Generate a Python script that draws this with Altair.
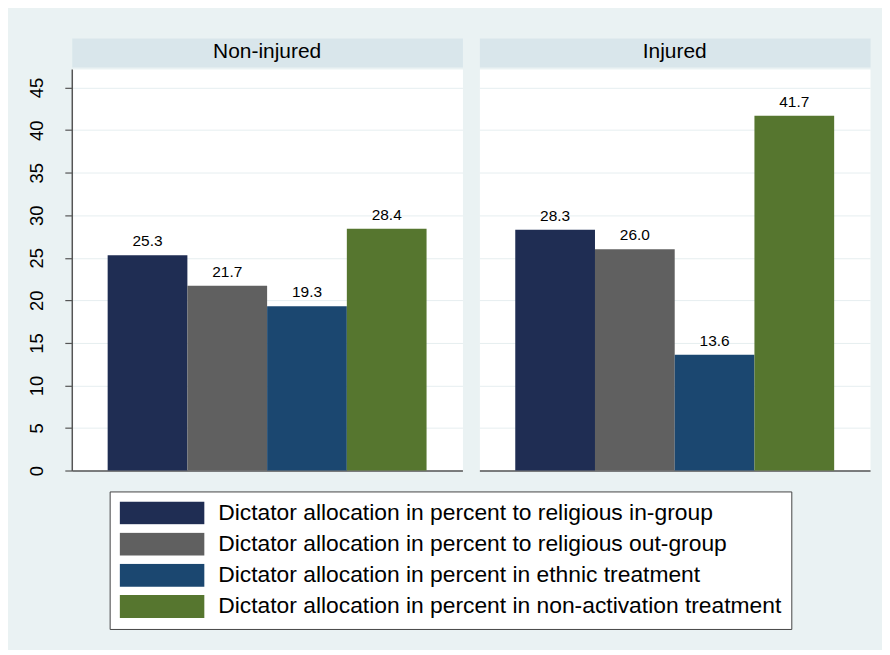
import altair as alt
import pandas as pd

panels = ["Non-injured", "Injured"]
series = [
    "Dictator allocation in percent to religious in-group",
    "Dictator allocation in percent to religious out-group",
    "Dictator allocation in percent in ethnic treatment",
    "Dictator allocation in percent in non-activation treatment",
]
non_injured = [25.3, 21.7, 19.3, 28.4]
injured = [28.3, 26.0, 13.6, 41.7]
colors = ["#1F2D53", "#606060", "#1B4770", "#56762F"]
y_ticks = [0, 5, 10, 15, 20, 25, 30, 35, 40, 45]

FONT = "Liberation Sans"
AX = "#555555"
GRID = "#E6EEF0"

rows = []
for p, vals in zip(panels, [non_injured, injured]):
    for s, v in zip(series, vals):
        rows.append({"panel": p, "series": s, "value": v})
df = pd.DataFrame(rows)
head_df = pd.DataFrame({"panel": panels})

legend = alt.Legend(
    title=None, orient="none", legendX=38, legendY=455,
    direction="vertical",
    symbolType="M-1,-0.27H1V0.27H-1Z", symbolSize=7225,
    symbolStrokeWidth=0, symbolOpacity=1,
    clipHeight=23, rowPadding=7.3,
    labelFont=FONT, labelFontSize=22.9, labelColor="black",
    labelOffset=14, labelLimit=800,
    fillColor="white", strokeColor="#444444", padding=10,
)

color = alt.Color("series:N", scale=alt.Scale(domain=series, range=colors), legend=legend)
xenc = alt.X("series:N", sort=series,
             scale=alt.Scale(paddingInner=0, paddingOuter=0.45),
             axis=alt.Axis(title=None, labels=False, ticks=False, domain=True,
                           domainColor=AX, domainWidth=1.5))


def bars(panel, left):
    if left:
        yaxis = alt.Axis(values=y_ticks, title=None, labelAngle=270, labelAlign="center",
                         labelBaseline="bottom", labelFontSize=18.5, labelFont=FONT,
                         labelColor="black", labelPadding=18, labelFlush=False,
                         labelOverlap=False, tickSize=7, tickColor=AX, tickWidth=1.2,
                         domainColor=AX, domainWidth=1.5, grid=True, gridColor=GRID,
                         gridWidth=1, minExtent=44, maxExtent=44)
    else:
        yaxis = alt.Axis(values=y_ticks, title=None, labels=False, ticks=False,
                         domain=False, grid=True, gridColor=GRID, gridWidth=1)
    y = alt.Y("value:Q", scale=alt.Scale(domain=[0, 47.2], nice=False), axis=yaxis)
    base = alt.Chart(df).transform_filter(alt.datum.panel == panel)
    b = base.mark_bar().encode(x=xenc, y=y, color=color)
    t = base.mark_text(baseline="alphabetic", dy=-9, fontSize=15.5, font=FONT,
                       color="black").encode(
        x=alt.X("series:N", sort=series), y="value:Q",
        text=alt.Text("value:Q", format=".1f"))
    return alt.layer(b, t).properties(
        width=392, height=403,
        view=alt.ViewBackground(fill="white", stroke="transparent"))


def header(panel, left):
    base = alt.Chart(head_df).transform_filter(alt.datum.panel == panel)
    enc = {"text": "panel:N"}
    if left:
        enc["y"] = alt.Y("panel:N", axis=alt.Axis(title=None, labels=False, ticks=False,
                                                 domain=False, grid=False,
                                                 minExtent=44, maxExtent=44))
    return base.mark_text(fontSize=21, font=FONT, color="black").encode(**enc).properties(
        width=392, height=29,
        view=alt.ViewBackground(fill="#D9E6EB", stroke="transparent"))


col1 = alt.vconcat(header(panels[0], True), bars(panels[0], True), spacing=0)
col2 = alt.vconcat(header(panels[1], False), bars(panels[1], False), spacing=0)

chart = alt.hconcat(col1, col2, spacing=15).properties(
    padding={"left": 19, "top": 28, "right": 11, "bottom": 19},
    background="#EAF2F3",
).configure_view(stroke="transparent")

chart.save("out.html", embed_options={"renderer": "svg", "actions": False})
